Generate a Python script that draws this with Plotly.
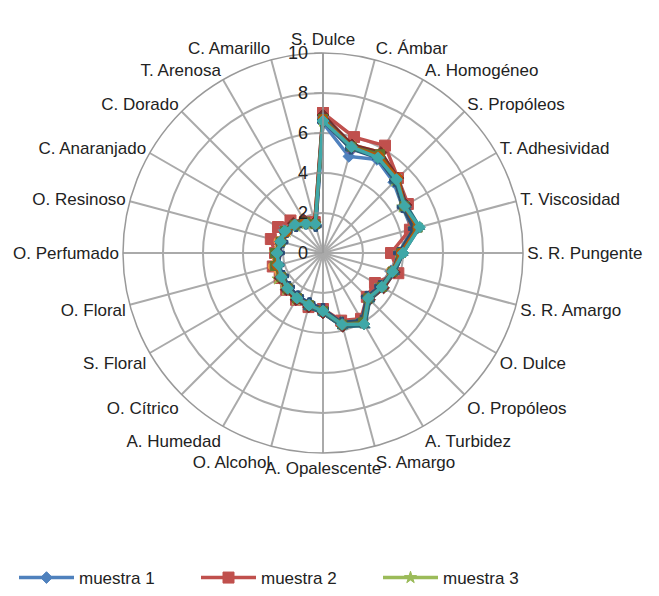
import plotly.graph_objects as go

categories = ["S. Dulce", "C. Ámbar", "A. Homogéneo", "S. Propóleos", "T. Adhesividad",
              "T. Viscosidad", "S. R. Pungente", "S. R. Amargo", "O. Dulce", "O. Propóleos",
              "A. Turbidez", "S. Amargo", "A. Opalescente", "O. Alcohol", "A. Humedad",
              "O. Cítrico", "S. Floral", "O. Floral", "O. Perfumado", "O. Resinoso",
              "C. Anaranjado", "C. Dorado", "T. Arenosa", "C. Amarillo"]

radial_ticks = [0, 2, 4, 6, 8, 10]

muestra_1 = [6.5, 5.0, 5.4, 5.0, 4.6, 4.6, 3.8, 3.5, 3.3, 3.1, 3.9, 3.6, 2.8, 2.6, 2.5, 2.4, 2.3, 2.3, 2.2, 2.1, 2.1, 1.9, 1.7, 1.4]
muestra_2 = [7.0, 6.0, 6.2, 5.3, 4.9, 4.5, 3.4, 3.9, 3.0, 3.1, 3.8, 3.5, 2.8, 2.8, 2.7, 2.6, 2.5, 2.6, 2.4, 2.7, 2.6, 2.3, 1.8, 1.6]
muestra_3 = [6.6, 5.5, 5.6, 5.1, 4.6, 4.7, 3.8, 3.6, 3.3, 3.2, 3.9, 3.6, 2.9, 2.7, 2.7, 2.6, 2.6, 2.5, 2.4, 2.2, 2.1, 1.9, 1.7, 1.5]
muestra_4 = [6.7, 5.4, 5.7, 5.2, 4.7, 4.8, 3.9, 3.6, 3.4, 3.2, 4.0, 3.7, 2.9, 2.7, 2.6, 2.5, 2.4, 2.4, 2.3, 2.2, 2.2, 2.0, 1.8, 1.5]
muestra_5 = [6.8, 5.5, 5.6, 5.3, 4.8, 4.9, 4.0, 3.7, 3.5, 3.3, 4.1, 3.8, 3.0, 2.8, 2.6, 2.5, 2.4, 2.3, 2.3, 2.2, 2.3, 2.0, 1.8, 1.5]
muestra_6 = [6.7, 5.6, 5.8, 5.2, 4.7, 4.8, 3.9, 3.5, 3.4, 3.2, 4.0, 3.7, 2.9, 2.7, 2.6, 2.5, 2.5, 2.6, 2.4, 2.3, 2.2, 2.0, 1.8, 1.6]
muestra_7 = [6.6, 5.4, 5.5, 5.1, 4.6, 4.7, 3.8, 3.6, 3.3, 3.1, 3.9, 3.6, 2.8, 2.6, 2.5, 2.4, 2.3, 2.3, 2.2, 2.1, 2.1, 1.9, 1.7, 1.4]
muestra_8 = [6.9, 5.6, 5.8, 5.3, 4.8, 4.9, 4.0, 3.7, 3.5, 3.3, 4.1, 3.8, 3.0, 2.8, 2.7, 2.6, 2.5, 2.4, 2.3, 2.2, 2.2, 2.1, 1.9, 1.6]
muestra_9 = [6.7, 5.5, 5.7, 5.2, 4.7, 4.9, 3.9, 3.6, 3.4, 3.2, 4.0, 3.7, 2.9, 2.7, 2.6, 2.5, 2.4, 2.5, 2.4, 2.2, 2.2, 2.0, 1.8, 1.5]
muestra_10 = [6.8, 5.4, 5.6, 5.1, 4.8, 5.0, 4.0, 3.7, 3.4, 3.3, 4.2, 3.8, 3.0, 2.8, 2.6, 2.5, 2.4, 2.4, 2.3, 2.2, 2.2, 2.0, 1.8, 1.5]
muestra_11 = [6.7, 5.5, 5.6, 5.3, 4.7, 4.9, 3.9, 3.6, 3.4, 3.2, 4.1, 3.7, 2.9, 2.7, 2.6, 2.5, 2.4, 2.4, 2.3, 2.2, 2.1, 2.0, 1.8, 1.5]
muestra_12 = [6.6, 5.5, 5.5, 5.2, 4.7, 5.0, 4.0, 3.6, 3.4, 3.2, 4.1, 3.7, 2.9, 2.7, 2.6, 2.5, 2.4, 2.3, 2.3, 2.2, 2.2, 2.0, 1.7, 1.5]

series = [muestra_1, muestra_2, muestra_3, muestra_4, muestra_5, muestra_6,
          muestra_7, muestra_8, muestra_9, muestra_10, muestra_11, muestra_12]
names = ["muestra 1", "muestra 2", "muestra 3", "muestra 4", "muestra 5", "muestra 6",
         "muestra 7", "muestra 8", "muestra 9", "muestra 10", "muestra 11", "muestra 12"]
colors = ["#4F81BD", "#C0504D", "#9BBB59", "#8064A2", "#4BACC6", "#F79646",
          "#2C4D75", "#772C2A", "#5F7530", "#276A7C", "#B65708", "#3FA8A8"]
symbols = ["diamond", "square", "star", "x", "asterisk", "circle",
           "cross", "diamond", "square", "triangle-up", "circle", "diamond"]

fig = go.Figure()
for vals, name, col, sym, i in zip(series, names, colors, symbols, range(len(series))):
    fig.add_trace(go.Scatterpolar(
        r=vals + [vals[0]],
        theta=categories + [categories[0]],
        mode="lines+markers",
        name=name,
        line=dict(color=col, width=3.5),
        marker=dict(color=col, symbol=sym, size=9 if i != 1 else 11,
                    line=dict(color=col, width=1)),
        showlegend=i < 3,
    ))

# page body adds an 8px offset; target centre (323, 253) on screen
cx, cy, R = 315, 245, 200
W, H = 659, 596
font_family = "Liberation Sans, Arial, sans-serif"
fig.update_layout(
    width=W, height=H,
    margin=dict(l=0, r=0, t=0, b=0),
    paper_bgcolor="white",
    plot_bgcolor="white",
    font=dict(family=font_family, size=17, color="#222222"),
    polar=dict(
        domain=dict(x=[(cx - R) / W, (cx + R) / W],
                    y=[(H - cy - R) / H, (H - cy + R) / H]),
        bgcolor="white",
        radialaxis=dict(range=[0, 10], tickvals=radial_ticks, ticktext=[str(t) for t in radial_ticks],
                        angle=90, tickangle=90, side="counterclockwise",
                        showline=True, linecolor="#999999", linewidth=1.5,
                        gridcolor="#AAAAAA", gridwidth=1.5,
                        ticks="outside", ticklen=8, tickcolor="#999999",
                        tickfont=dict(size=18, color="#222222")),
        angularaxis=dict(direction="clockwise", rotation=90,
                         showline=True, linecolor="#999999", linewidth=1.5,
                         gridcolor="#AAAAAA", gridwidth=1.5,
                         ticks="", tickfont=dict(size=17, color="#222222")),
    ),
    legend=dict(orientation="h", x=6 / W, y=(H - 570) / H, xanchor="left", yanchor="middle",
                entrywidth=112, entrywidthmode="pixels", itemwidth=55,
                font=dict(size=17, color="#222222"), bgcolor="rgba(0,0,0,0)"),
)

fig.write_html("out.html")
